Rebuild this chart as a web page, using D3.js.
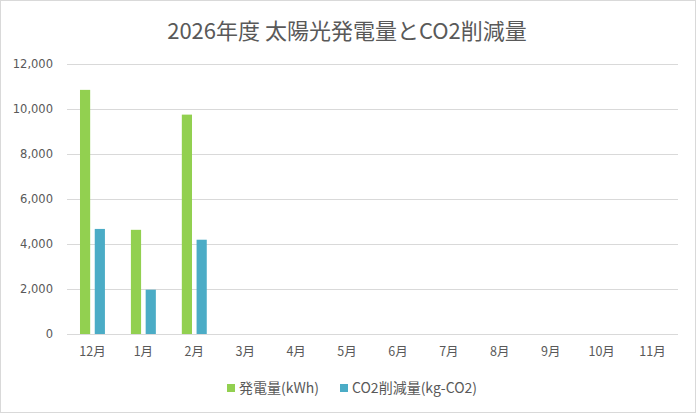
<!DOCTYPE html>
<html><head><meta charset="utf-8">
<script src="https://cdn.jsdelivr.net/npm/d3@7"></script>
<style>
body{margin:0;background:#fff;}
svg{display:block;}
text{font-family:"Noto Sans CJK JP","Noto Sans",sans-serif;}
</style></head>
<body>
<script>
const categories = ["12月","1月","2月","3月","4月","5月","6月","7月","8月","9月","10月","11月"];
const power = [10850, 4630, 9750, null, null, null, null, null, null, null, null, null];
const co2 = [4670, 1970, 4190, null, null, null, null, null, null, null, null, null];
const yTicks = [0, 2000, 4000, 6000, 8000, 10000, 12000];
const seriesNames = ["発電量(kWh)", "CO2削減量(kg-CO2)"];
const colors = ["#92d050", "#4bacc6"];

(function(){
const W = 696, H = 413;
const svg = d3.select("body").append("svg").attr("width", W).attr("height", H);
svg.append("rect").attr("x",0.5).attr("y",0.5).attr("width",W-1).attr("height",H-1)
  .attr("fill","#fff").attr("stroke","#d9d9d9");

svg.append("text").attr("x",347).attr("y",39).attr("text-anchor","middle")
  .attr("font-size",22).attr("fill","#595959").text("2026年度 太陽光発電量とCO2削減量");

const pl = 67, pr = 678, pt = 64, pb = 334;
const x = d3.scaleBand().domain(categories).range([pl, pr]);
const y = d3.scaleLinear().domain([0, 12000]).range([pb, pt]);

const grid = svg.append("g");
grid.selectAll("line").data(yTicks.filter(d=>d>0)).join("line")
  .attr("x1",pl).attr("x2",pr).attr("y1",d=>y(d)+0.5).attr("y2",d=>y(d)+0.5)
  .attr("stroke","#d9d9d9").attr("stroke-width",1);

const yAxis = d3.axisLeft(y).tickValues(yTicks).tickFormat(d3.format(",")).tickSize(0).tickPadding(14);
const ya = svg.append("g").attr("transform",`translate(${pl},0)`).call(yAxis);
ya.select(".domain").remove();
ya.selectAll("text").attr("fill","#595959")
  .style("font-family","Verdana,'DejaVu Sans',sans-serif").attr("font-size",11.5);

const inner = d3.scaleBand().domain([0,1]).range([0, x.bandwidth()]).paddingInner(0.31).paddingOuter(0.88);
const groups = [power, co2];
groups.forEach((vals, si) => {
  svg.append("g").selectAll("rect").data(categories.map((c,i)=>({c, v: vals[i]})).filter(d=>d.v!=null))
    .join("rect")
    .attr("x", d => x(d.c) + inner(si))
    .attr("width", inner.bandwidth())
    .attr("y", d => y(d.v))
    .attr("height", d => pb - y(d.v))
    .attr("fill", colors[si]);
});

const xAxis = d3.axisBottom(x).tickSize(0).tickPadding(13);
const xa = svg.append("g").attr("transform",`translate(0,${pb})`).call(xAxis);
xa.select(".domain").attr("stroke","#d9d9d9").attr("d",`M${pl},0.5H${pr}`);
xa.selectAll("text").attr("font-size",12.5).attr("fill","#595959");

const legend = svg.append("g");
const legX = [227, 340];
seriesNames.forEach((n, i) => {
  legend.append("rect").attr("x", legX[i]).attr("y", 384).attr("width", 8).attr("height", 8).attr("fill", colors[i]);
  legend.append("text").attr("x", legX[i] + 12).attr("y", 393).attr("font-size", 14)
    .attr("fill", "#595959").text(n);
});
})();
</script>
</body></html>
